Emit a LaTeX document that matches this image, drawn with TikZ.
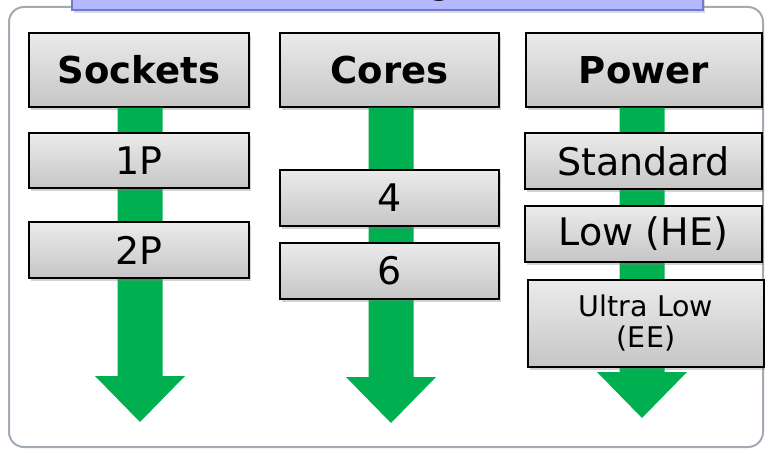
\documentclass[tikz,border=0pt]{standalone}
\usepackage{fontspec}
\setmainfont{DejaVu Sans}
\usetikzlibrary{shadows,calc}
\definecolor{arrowgreen}{HTML}{00B050}
\definecolor{titlefill}{HTML}{B3B8FF}
\definecolor{titleline}{HTML}{7478D2}
\definecolor{framegray}{HTML}{A2AAB4}
\definecolor{boxtop}{HTML}{EBEBEB}
\definecolor{boxbot}{HTML}{C6C6C6}
\tikzset{
  optbox/.style={draw=black, line width=1.5pt, top color=boxtop, bottom color=boxbot,
    inner sep=0pt, align=center,
    drop shadow={opacity=0.35, shadow xshift=2pt, shadow yshift=-3pt}},
  headbox/.style={optbox, font=\bfseries\fontsize{37}{44}\selectfont},
  valbox/.style={optbox, font=\fontsize{38}{45}\selectfont},
  smallbox/.style={optbox, font=\fontsize{28.5}{31}\selectfont},
}
\newcommand{\greenarrow}[2]{%
  \fill[arrowgreen] let \p1=(#1), \p2=(#2) in
    (\x2-22.5pt,\y1) -- (\x2-22.5pt,\y2+46pt) -- (\x2-45pt,\y2+46pt) -- (\x2,\y2)
    -- (\x2+45pt,\y2+46pt) -- (\x2+22.5pt,\y2+46pt) -- (\x2+22.5pt,\y1) -- cycle;}
\begin{document}
\begin{tikzpicture}[x=1pt,y=-1pt]
\useasboundingbox (0,0) rectangle (765,449);
% outer frame
\draw[framegray, line width=2pt, rounded corners=15pt] (9,7) rectangle (763,447);
% title box (cut off at top)
\node[draw=titleline, fill=titlefill, line width=1.5pt, minimum width=631pt, minimum height=70pt,
  drop shadow={opacity=0.3, shadow xshift=2pt, shadow yshift=-3pt}, inner sep=0pt] (title) at (387.5,-25) {};
\node[anchor=base, font=\fontsize{38}{45}\selectfont, inner sep=0pt] (titletext) at (441,-6) {g};
% arrow tips
\coordinate (t1) at (140,422);
\coordinate (t2) at (391,423);
\coordinate (t3) at (642,418);
% headers
\node[headbox, minimum width=220pt, minimum height=74pt] (sockets) at (139,70) {Sockets};
\node[headbox, minimum width=219pt, minimum height=74pt] (cores) at (389.5,70) {Cores};
\node[headbox, minimum width=236pt, minimum height=74pt] (power) at (644,70) {Power};
% arrows behind option boxes
\greenarrow{sockets.south}{t1}
\greenarrow{cores.south}{t2}
\greenarrow{power.south}{t3}
% option boxes
\node[valbox, minimum width=220pt, minimum height=55pt] (p1) at (139,160.5) {1P};
\node[valbox, minimum width=220pt, minimum height=56pt] (p2) at (139,250) {2P};
\node[valbox, minimum width=219pt, minimum height=56pt] (c4) at (389.5,198) {4};
\node[valbox, minimum width=219pt, minimum height=56pt] (c6) at (389.5,271) {6};
\node[valbox, minimum width=237pt, minimum height=56pt] (std) at (643.5,161) {Standard};
\node[valbox, minimum width=237pt, minimum height=56pt] (low) at (643.5,234) {Low (HE)};
\node[smallbox, minimum width=236pt, minimum height=87pt] (ultra) at (646,323.5) {Ultra Low\\(EE)};
\end{tikzpicture}
\end{document}
